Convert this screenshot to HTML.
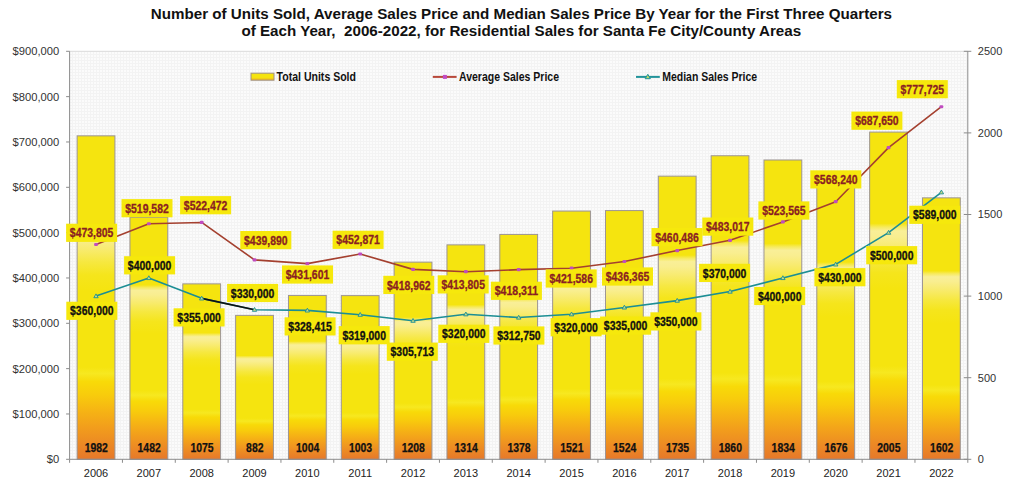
<!DOCTYPE html><html><head><meta charset="utf-8"><style>html,body{margin:0;padding:0;background:#fff;}svg{display:block;}text{font-family:"Liberation Sans",sans-serif;}</style></head><body>
<svg width="1024" height="483" viewBox="0 0 1024 483">
<defs>
<linearGradient id="bar" x1="0" y1="0" x2="0" y2="1">
<stop offset="0" stop-color="#F5E40F"/>
<stop offset="0.279" stop-color="#F5E40F"/>
<stop offset="0.29" stop-color="#F7EA5C"/>
<stop offset="0.302" stop-color="#F9EF98"/>
<stop offset="0.32" stop-color="#F9EE90"/>
<stop offset="0.35" stop-color="#F8EB70"/>
<stop offset="0.39" stop-color="#F6E840"/>
<stop offset="0.43" stop-color="#F5E51C"/>
<stop offset="0.48" stop-color="#F5E40F"/>
<stop offset="0.715" stop-color="#F5E40F"/>
<stop offset="0.735" stop-color="#F7E820"/>
<stop offset="0.76" stop-color="#F8DA08"/>
<stop offset="0.80" stop-color="#F8CC0C"/>
<stop offset="0.85" stop-color="#F6B414"/>
<stop offset="0.90" stop-color="#F29E1C"/>
<stop offset="0.95" stop-color="#EC8A24"/>
<stop offset="1" stop-color="#E6782A"/>
</linearGradient>
<linearGradient id="sw" x1="0" y1="0" x2="0" y2="1">
<stop offset="0" stop-color="#F5E40F"/>
<stop offset="0.6" stop-color="#F5E40F"/>
<stop offset="1" stop-color="#F0B020"/>
</linearGradient>
<pattern id="grid" x="0" y="0" width="3" height="3" patternUnits="userSpaceOnUse">
<rect width="3" height="3" fill="#FBFBFB"/>
<rect width="3" height="1" fill="#F3F3F3"/>
<rect width="1" height="3" fill="#F3F3F3"/>
</pattern>
</defs>
<rect width="1024" height="483" fill="#fff"/>
<rect x="69.6" y="51.3" width="898.1999999999999" height="408.0" fill="url(#grid)"/>
<rect x="77.12" y="135.84" width="37.8" height="323.46" fill="url(#bar)" stroke="#9C9494" stroke-width="1"/>
<rect x="129.95" y="217.44" width="37.8" height="241.86" fill="url(#bar)" stroke="#9C9494" stroke-width="1"/>
<rect x="182.79" y="283.86" width="37.8" height="175.44" fill="url(#bar)" stroke="#9C9494" stroke-width="1"/>
<rect x="235.62" y="315.36" width="37.8" height="143.94" fill="url(#bar)" stroke="#9C9494" stroke-width="1"/>
<rect x="288.46" y="295.45" width="37.8" height="163.85" fill="url(#bar)" stroke="#9C9494" stroke-width="1"/>
<rect x="341.29" y="295.61" width="37.8" height="163.69" fill="url(#bar)" stroke="#9C9494" stroke-width="1"/>
<rect x="394.13" y="262.15" width="37.8" height="197.15" fill="url(#bar)" stroke="#9C9494" stroke-width="1"/>
<rect x="446.96" y="244.86" width="37.8" height="214.44" fill="url(#bar)" stroke="#9C9494" stroke-width="1"/>
<rect x="499.80" y="234.41" width="37.8" height="224.89" fill="url(#bar)" stroke="#9C9494" stroke-width="1"/>
<rect x="552.64" y="211.07" width="37.8" height="248.23" fill="url(#bar)" stroke="#9C9494" stroke-width="1"/>
<rect x="605.47" y="210.58" width="37.8" height="248.72" fill="url(#bar)" stroke="#9C9494" stroke-width="1"/>
<rect x="658.31" y="176.15" width="37.8" height="283.15" fill="url(#bar)" stroke="#9C9494" stroke-width="1"/>
<rect x="711.14" y="155.75" width="37.8" height="303.55" fill="url(#bar)" stroke="#9C9494" stroke-width="1"/>
<rect x="763.98" y="159.99" width="37.8" height="299.31" fill="url(#bar)" stroke="#9C9494" stroke-width="1"/>
<rect x="816.81" y="185.78" width="37.8" height="273.52" fill="url(#bar)" stroke="#9C9494" stroke-width="1"/>
<rect x="869.65" y="132.08" width="37.8" height="327.22" fill="url(#bar)" stroke="#9C9494" stroke-width="1"/>
<rect x="922.48" y="197.85" width="37.8" height="261.45" fill="url(#bar)" stroke="#9C9494" stroke-width="1"/>
<path d="M69.6 51.3H967.8" stroke="#DADADA" stroke-width="1"/>
<path d="M69.6 51.3V459.3H967.8V51.3" fill="none" stroke="#8C8C8C" stroke-width="1"/>
<path d="M66.1 459.30H69.6" stroke="#8C8C8C" stroke-width="1"/>
<text x="59.2" y="463.20" font-size="11.2" fill="#333" text-anchor="end">$0</text>
<path d="M66.1 413.97H69.6" stroke="#8C8C8C" stroke-width="1"/>
<text x="59.2" y="417.87" font-size="11.2" fill="#333" text-anchor="end">$100,000</text>
<path d="M66.1 368.63H69.6" stroke="#8C8C8C" stroke-width="1"/>
<text x="59.2" y="372.53" font-size="11.2" fill="#333" text-anchor="end">$200,000</text>
<path d="M66.1 323.30H69.6" stroke="#8C8C8C" stroke-width="1"/>
<text x="59.2" y="327.20" font-size="11.2" fill="#333" text-anchor="end">$300,000</text>
<path d="M66.1 277.97H69.6" stroke="#8C8C8C" stroke-width="1"/>
<text x="59.2" y="281.87" font-size="11.2" fill="#333" text-anchor="end">$400,000</text>
<path d="M66.1 232.63H69.6" stroke="#8C8C8C" stroke-width="1"/>
<text x="59.2" y="236.53" font-size="11.2" fill="#333" text-anchor="end">$500,000</text>
<path d="M66.1 187.30H69.6" stroke="#8C8C8C" stroke-width="1"/>
<text x="59.2" y="191.20" font-size="11.2" fill="#333" text-anchor="end">$600,000</text>
<path d="M66.1 141.97H69.6" stroke="#8C8C8C" stroke-width="1"/>
<text x="59.2" y="145.87" font-size="11.2" fill="#333" text-anchor="end">$700,000</text>
<path d="M66.1 96.63H69.6" stroke="#8C8C8C" stroke-width="1"/>
<text x="59.2" y="100.53" font-size="11.2" fill="#333" text-anchor="end">$800,000</text>
<path d="M66.1 51.30H69.6" stroke="#8C8C8C" stroke-width="1"/>
<text x="59.2" y="55.20" font-size="11.2" fill="#333" text-anchor="end">$900,000</text>
<path d="M963.8 459.30H971.3" stroke="#8C8C8C" stroke-width="1"/>
<text x="977.8" y="463.20" font-size="11" fill="#333">0</text>
<path d="M963.8 377.70H971.3" stroke="#8C8C8C" stroke-width="1"/>
<text x="977.8" y="381.60" font-size="11" fill="#333">500</text>
<path d="M963.8 296.10H971.3" stroke="#8C8C8C" stroke-width="1"/>
<text x="977.8" y="300.00" font-size="11" fill="#333">1000</text>
<path d="M963.8 214.50H971.3" stroke="#8C8C8C" stroke-width="1"/>
<text x="977.8" y="218.40" font-size="11" fill="#333">1500</text>
<path d="M963.8 132.90H971.3" stroke="#8C8C8C" stroke-width="1"/>
<text x="977.8" y="136.80" font-size="11" fill="#333">2000</text>
<path d="M963.8 51.30H971.3" stroke="#8C8C8C" stroke-width="1"/>
<text x="977.8" y="55.20" font-size="11" fill="#333">2500</text>
<path d="M69.60 459.3V462.8" stroke="#8C8C8C" stroke-width="1"/>
<path d="M122.44 459.3V462.8" stroke="#8C8C8C" stroke-width="1"/>
<path d="M175.27 459.3V462.8" stroke="#8C8C8C" stroke-width="1"/>
<path d="M228.11 459.3V462.8" stroke="#8C8C8C" stroke-width="1"/>
<path d="M280.94 459.3V462.8" stroke="#8C8C8C" stroke-width="1"/>
<path d="M333.78 459.3V462.8" stroke="#8C8C8C" stroke-width="1"/>
<path d="M386.61 459.3V462.8" stroke="#8C8C8C" stroke-width="1"/>
<path d="M439.45 459.3V462.8" stroke="#8C8C8C" stroke-width="1"/>
<path d="M492.28 459.3V462.8" stroke="#8C8C8C" stroke-width="1"/>
<path d="M545.12 459.3V462.8" stroke="#8C8C8C" stroke-width="1"/>
<path d="M597.95 459.3V462.8" stroke="#8C8C8C" stroke-width="1"/>
<path d="M650.79 459.3V462.8" stroke="#8C8C8C" stroke-width="1"/>
<path d="M703.62 459.3V462.8" stroke="#8C8C8C" stroke-width="1"/>
<path d="M756.46 459.3V462.8" stroke="#8C8C8C" stroke-width="1"/>
<path d="M809.29 459.3V462.8" stroke="#8C8C8C" stroke-width="1"/>
<path d="M862.13 459.3V462.8" stroke="#8C8C8C" stroke-width="1"/>
<path d="M914.96 459.3V462.8" stroke="#8C8C8C" stroke-width="1"/>
<path d="M967.80 459.3V462.8" stroke="#8C8C8C" stroke-width="1"/>
<text x="96.02" y="476.7" font-size="11" fill="#222" text-anchor="middle">2006</text>
<text x="148.85" y="476.7" font-size="11" fill="#222" text-anchor="middle">2007</text>
<text x="201.69" y="476.7" font-size="11" fill="#222" text-anchor="middle">2008</text>
<text x="254.52" y="476.7" font-size="11" fill="#222" text-anchor="middle">2009</text>
<text x="307.36" y="476.7" font-size="11" fill="#222" text-anchor="middle">2010</text>
<text x="360.19" y="476.7" font-size="11" fill="#222" text-anchor="middle">2011</text>
<text x="413.03" y="476.7" font-size="11" fill="#222" text-anchor="middle">2012</text>
<text x="465.86" y="476.7" font-size="11" fill="#222" text-anchor="middle">2013</text>
<text x="518.70" y="476.7" font-size="11" fill="#222" text-anchor="middle">2014</text>
<text x="571.54" y="476.7" font-size="11" fill="#222" text-anchor="middle">2015</text>
<text x="624.37" y="476.7" font-size="11" fill="#222" text-anchor="middle">2016</text>
<text x="677.21" y="476.7" font-size="11" fill="#222" text-anchor="middle">2017</text>
<text x="730.04" y="476.7" font-size="11" fill="#222" text-anchor="middle">2018</text>
<text x="782.88" y="476.7" font-size="11" fill="#222" text-anchor="middle">2019</text>
<text x="835.71" y="476.7" font-size="11" fill="#222" text-anchor="middle">2020</text>
<text x="888.55" y="476.7" font-size="11" fill="#222" text-anchor="middle">2021</text>
<text x="941.38" y="476.7" font-size="11" fill="#222" text-anchor="middle">2022</text>
<text x="96.32" y="451.9" font-size="12.2" font-weight="bold" fill="#111" stroke="#111" stroke-width="0.25" text-anchor="middle" textLength="23.2" lengthAdjust="spacingAndGlyphs">1982</text>
<text x="149.15" y="451.9" font-size="12.2" font-weight="bold" fill="#111" stroke="#111" stroke-width="0.25" text-anchor="middle" textLength="23.2" lengthAdjust="spacingAndGlyphs">1482</text>
<text x="201.99" y="451.9" font-size="12.2" font-weight="bold" fill="#111" stroke="#111" stroke-width="0.25" text-anchor="middle" textLength="23.2" lengthAdjust="spacingAndGlyphs">1075</text>
<text x="254.82" y="451.9" font-size="12.2" font-weight="bold" fill="#111" stroke="#111" stroke-width="0.25" text-anchor="middle" textLength="17.4" lengthAdjust="spacingAndGlyphs">882</text>
<text x="307.66" y="451.9" font-size="12.2" font-weight="bold" fill="#111" stroke="#111" stroke-width="0.25" text-anchor="middle" textLength="23.2" lengthAdjust="spacingAndGlyphs">1004</text>
<text x="360.49" y="451.9" font-size="12.2" font-weight="bold" fill="#111" stroke="#111" stroke-width="0.25" text-anchor="middle" textLength="23.2" lengthAdjust="spacingAndGlyphs">1003</text>
<text x="413.33" y="451.9" font-size="12.2" font-weight="bold" fill="#111" stroke="#111" stroke-width="0.25" text-anchor="middle" textLength="23.2" lengthAdjust="spacingAndGlyphs">1208</text>
<text x="466.16" y="451.9" font-size="12.2" font-weight="bold" fill="#111" stroke="#111" stroke-width="0.25" text-anchor="middle" textLength="23.2" lengthAdjust="spacingAndGlyphs">1314</text>
<text x="519.00" y="451.9" font-size="12.2" font-weight="bold" fill="#111" stroke="#111" stroke-width="0.25" text-anchor="middle" textLength="23.2" lengthAdjust="spacingAndGlyphs">1378</text>
<text x="571.84" y="451.9" font-size="12.2" font-weight="bold" fill="#111" stroke="#111" stroke-width="0.25" text-anchor="middle" textLength="23.2" lengthAdjust="spacingAndGlyphs">1521</text>
<text x="624.67" y="451.9" font-size="12.2" font-weight="bold" fill="#111" stroke="#111" stroke-width="0.25" text-anchor="middle" textLength="23.2" lengthAdjust="spacingAndGlyphs">1524</text>
<text x="677.51" y="451.9" font-size="12.2" font-weight="bold" fill="#111" stroke="#111" stroke-width="0.25" text-anchor="middle" textLength="23.2" lengthAdjust="spacingAndGlyphs">1735</text>
<text x="730.34" y="451.9" font-size="12.2" font-weight="bold" fill="#111" stroke="#111" stroke-width="0.25" text-anchor="middle" textLength="23.2" lengthAdjust="spacingAndGlyphs">1860</text>
<text x="783.18" y="451.9" font-size="12.2" font-weight="bold" fill="#111" stroke="#111" stroke-width="0.25" text-anchor="middle" textLength="23.2" lengthAdjust="spacingAndGlyphs">1834</text>
<text x="836.01" y="451.9" font-size="12.2" font-weight="bold" fill="#111" stroke="#111" stroke-width="0.25" text-anchor="middle" textLength="23.2" lengthAdjust="spacingAndGlyphs">1676</text>
<text x="888.85" y="451.9" font-size="12.2" font-weight="bold" fill="#111" stroke="#111" stroke-width="0.25" text-anchor="middle" textLength="23.2" lengthAdjust="spacingAndGlyphs">2005</text>
<text x="941.68" y="451.9" font-size="12.2" font-weight="bold" fill="#111" stroke="#111" stroke-width="0.25" text-anchor="middle" textLength="23.2" lengthAdjust="spacingAndGlyphs">1602</text>
<polyline points="96.02,244.51 148.85,223.76 201.69,222.45 254.52,259.88 307.36,263.64 360.19,254.00 413.03,269.37 465.86,271.71 518.70,269.67 571.54,268.18 624.37,261.48 677.21,250.55 730.04,240.33 782.88,221.95 835.71,201.70 888.55,147.57 941.38,106.73" fill="none" stroke="#A4402F" stroke-width="1.6" stroke-linejoin="round"/>
<polyline points="96.02,296.10 148.85,277.97 201.69,298.37 254.52,309.70 307.36,310.42 360.19,314.69 413.03,320.71 465.86,314.23 518.70,317.52 571.54,314.23 624.37,307.43 677.21,300.63 730.04,291.57 782.88,277.97 835.71,264.37 888.55,232.63 941.38,192.29" fill="none" stroke="#1C8E94" stroke-width="1.6" stroke-linejoin="round"/>
<line x1="201.69" y1="298.37" x2="254.52" y2="309.70" stroke="#111" stroke-width="1.6"/>
<rect x="94.12" y="242.91" width="3.8" height="3.2" rx="1" fill="#C04CC0"/>
<rect x="146.95" y="222.16" width="3.8" height="3.2" rx="1" fill="#C04CC0"/>
<rect x="199.79" y="220.85" width="3.8" height="3.2" rx="1" fill="#C04CC0"/>
<rect x="252.62" y="258.28" width="3.8" height="3.2" rx="1" fill="#C04CC0"/>
<rect x="305.46" y="262.04" width="3.8" height="3.2" rx="1" fill="#C04CC0"/>
<rect x="358.29" y="252.40" width="3.8" height="3.2" rx="1" fill="#C04CC0"/>
<rect x="411.13" y="267.77" width="3.8" height="3.2" rx="1" fill="#C04CC0"/>
<rect x="463.96" y="270.11" width="3.8" height="3.2" rx="1" fill="#C04CC0"/>
<rect x="516.80" y="268.07" width="3.8" height="3.2" rx="1" fill="#C04CC0"/>
<rect x="569.64" y="266.58" width="3.8" height="3.2" rx="1" fill="#C04CC0"/>
<rect x="622.47" y="259.88" width="3.8" height="3.2" rx="1" fill="#C04CC0"/>
<rect x="675.31" y="248.95" width="3.8" height="3.2" rx="1" fill="#C04CC0"/>
<rect x="728.14" y="238.73" width="3.8" height="3.2" rx="1" fill="#C04CC0"/>
<rect x="780.98" y="220.35" width="3.8" height="3.2" rx="1" fill="#C04CC0"/>
<rect x="833.81" y="200.10" width="3.8" height="3.2" rx="1" fill="#C04CC0"/>
<rect x="886.65" y="145.97" width="3.8" height="3.2" rx="1" fill="#C04CC0"/>
<rect x="939.48" y="105.13" width="3.8" height="3.2" rx="1" fill="#C04CC0"/>
<path d="M96.02 293.90L98.22 297.70H93.82Z" fill="#C8DC80" stroke="#1F8F96" stroke-width="0.9"/>
<path d="M148.85 275.77L151.05 279.57H146.65Z" fill="#C8DC80" stroke="#1F8F96" stroke-width="0.9"/>
<path d="M201.69 296.17L203.89 299.97H199.49Z" fill="#C8DC80" stroke="#1F8F96" stroke-width="0.9"/>
<path d="M254.52 307.50L256.72 311.30H252.32Z" fill="#C8DC80" stroke="#1F8F96" stroke-width="0.9"/>
<path d="M307.36 308.22L309.56 312.02H305.16Z" fill="#C8DC80" stroke="#1F8F96" stroke-width="0.9"/>
<path d="M360.19 312.49L362.39 316.29H357.99Z" fill="#C8DC80" stroke="#1F8F96" stroke-width="0.9"/>
<path d="M413.03 318.51L415.23 322.31H410.83Z" fill="#C8DC80" stroke="#1F8F96" stroke-width="0.9"/>
<path d="M465.86 312.03L468.06 315.83H463.66Z" fill="#C8DC80" stroke="#1F8F96" stroke-width="0.9"/>
<path d="M518.70 315.32L520.90 319.12H516.50Z" fill="#C8DC80" stroke="#1F8F96" stroke-width="0.9"/>
<path d="M571.54 312.03L573.74 315.83H569.34Z" fill="#C8DC80" stroke="#1F8F96" stroke-width="0.9"/>
<path d="M624.37 305.23L626.57 309.03H622.17Z" fill="#C8DC80" stroke="#1F8F96" stroke-width="0.9"/>
<path d="M677.21 298.43L679.41 302.23H675.01Z" fill="#C8DC80" stroke="#1F8F96" stroke-width="0.9"/>
<path d="M730.04 289.37L732.24 293.17H727.84Z" fill="#C8DC80" stroke="#1F8F96" stroke-width="0.9"/>
<path d="M782.88 275.77L785.08 279.57H780.68Z" fill="#C8DC80" stroke="#1F8F96" stroke-width="0.9"/>
<path d="M835.71 262.17L837.91 265.97H833.51Z" fill="#C8DC80" stroke="#1F8F96" stroke-width="0.9"/>
<path d="M888.55 230.43L890.75 234.23H886.35Z" fill="#C8DC80" stroke="#1F8F96" stroke-width="0.9"/>
<path d="M941.38 190.09L943.58 193.89H939.18Z" fill="#C8DC80" stroke="#1F8F96" stroke-width="0.9"/>
<rect x="66.1" y="223.7" width="51" height="18.2" fill="#F6E80C"/>
<text x="91.60" y="237.40" font-size="12.5" font-weight="bold" fill="#8A1E22" stroke="#8A1E22" stroke-width="0.3" text-anchor="middle" textLength="43.5" lengthAdjust="spacingAndGlyphs">$473,805</text>
<rect x="121.5" y="199.1" width="51" height="18.2" fill="#F6E80C"/>
<text x="147.00" y="212.80" font-size="12.5" font-weight="bold" fill="#8A1E22" stroke="#8A1E22" stroke-width="0.3" text-anchor="middle" textLength="43.5" lengthAdjust="spacingAndGlyphs">$519,582</text>
<rect x="180.1" y="196.1" width="51" height="18.2" fill="#F6E80C"/>
<text x="205.60" y="209.80" font-size="12.5" font-weight="bold" fill="#8A1E22" stroke="#8A1E22" stroke-width="0.3" text-anchor="middle" textLength="43.5" lengthAdjust="spacingAndGlyphs">$522,472</text>
<rect x="240.3" y="231.0" width="51" height="18.2" fill="#F6E80C"/>
<text x="265.80" y="244.70" font-size="12.5" font-weight="bold" fill="#8A1E22" stroke="#8A1E22" stroke-width="0.3" text-anchor="middle" textLength="43.5" lengthAdjust="spacingAndGlyphs">$439,890</text>
<rect x="282.0" y="265.4" width="51" height="18.2" fill="#F6E80C"/>
<text x="307.50" y="279.10" font-size="12.5" font-weight="bold" fill="#8A1E22" stroke="#8A1E22" stroke-width="0.3" text-anchor="middle" textLength="43.5" lengthAdjust="spacingAndGlyphs">$431,601</text>
<rect x="332.6" y="230.7" width="51" height="18.2" fill="#F6E80C"/>
<text x="358.10" y="244.40" font-size="12.5" font-weight="bold" fill="#8A1E22" stroke="#8A1E22" stroke-width="0.3" text-anchor="middle" textLength="43.5" lengthAdjust="spacingAndGlyphs">$452,871</text>
<rect x="383.3" y="275.8" width="51" height="18.2" fill="#F6E80C"/>
<text x="408.80" y="289.50" font-size="12.5" font-weight="bold" fill="#8A1E22" stroke="#8A1E22" stroke-width="0.3" text-anchor="middle" textLength="43.5" lengthAdjust="spacingAndGlyphs">$418,962</text>
<rect x="437.7" y="275.3" width="51" height="18.2" fill="#F6E80C"/>
<text x="463.20" y="289.00" font-size="12.5" font-weight="bold" fill="#8A1E22" stroke="#8A1E22" stroke-width="0.3" text-anchor="middle" textLength="43.5" lengthAdjust="spacingAndGlyphs">$413,805</text>
<rect x="490.9" y="281.7" width="51" height="18.2" fill="#F6E80C"/>
<text x="516.40" y="295.40" font-size="12.5" font-weight="bold" fill="#8A1E22" stroke="#8A1E22" stroke-width="0.3" text-anchor="middle" textLength="43.5" lengthAdjust="spacingAndGlyphs">$418,311</text>
<rect x="545.7" y="269.4" width="51" height="18.2" fill="#F6E80C"/>
<text x="571.20" y="283.10" font-size="12.5" font-weight="bold" fill="#8A1E22" stroke="#8A1E22" stroke-width="0.3" text-anchor="middle" textLength="43.5" lengthAdjust="spacingAndGlyphs">$421,586</text>
<rect x="602.0" y="267.4" width="51" height="18.2" fill="#F6E80C"/>
<text x="627.50" y="281.10" font-size="12.5" font-weight="bold" fill="#8A1E22" stroke="#8A1E22" stroke-width="0.3" text-anchor="middle" textLength="43.5" lengthAdjust="spacingAndGlyphs">$436,365</text>
<rect x="651.5" y="228.0" width="51" height="18.2" fill="#F6E80C"/>
<text x="677.00" y="241.70" font-size="12.5" font-weight="bold" fill="#8A1E22" stroke="#8A1E22" stroke-width="0.3" text-anchor="middle" textLength="43.5" lengthAdjust="spacingAndGlyphs">$460,486</text>
<rect x="702.3" y="217.5" width="51" height="18.2" fill="#F6E80C"/>
<text x="727.80" y="231.20" font-size="12.5" font-weight="bold" fill="#8A1E22" stroke="#8A1E22" stroke-width="0.3" text-anchor="middle" textLength="43.5" lengthAdjust="spacingAndGlyphs">$483,017</text>
<rect x="758.4" y="201.4" width="51" height="18.2" fill="#F6E80C"/>
<text x="783.90" y="215.10" font-size="12.5" font-weight="bold" fill="#8A1E22" stroke="#8A1E22" stroke-width="0.3" text-anchor="middle" textLength="43.5" lengthAdjust="spacingAndGlyphs">$523,565</text>
<rect x="810.3" y="170.3" width="51" height="18.2" fill="#F6E80C"/>
<text x="835.80" y="184.00" font-size="12.5" font-weight="bold" fill="#8A1E22" stroke="#8A1E22" stroke-width="0.3" text-anchor="middle" textLength="43.5" lengthAdjust="spacingAndGlyphs">$568,240</text>
<rect x="851.4" y="111.6" width="51" height="18.2" fill="#F6E80C"/>
<text x="876.90" y="125.30" font-size="12.5" font-weight="bold" fill="#8A1E22" stroke="#8A1E22" stroke-width="0.3" text-anchor="middle" textLength="43.5" lengthAdjust="spacingAndGlyphs">$687,650</text>
<rect x="896.8" y="80.1" width="51" height="18.2" fill="#F6E80C"/>
<text x="922.30" y="93.80" font-size="12.5" font-weight="bold" fill="#8A1E22" stroke="#8A1E22" stroke-width="0.3" text-anchor="middle" textLength="43.5" lengthAdjust="spacingAndGlyphs">$777,725</text>
<rect x="66.3" y="301.7" width="51" height="18.2" fill="#F6E80C"/>
<text x="91.80" y="315.40" font-size="12.5" font-weight="bold" fill="#111" stroke="#111" stroke-width="0.3" text-anchor="middle" textLength="43.5" lengthAdjust="spacingAndGlyphs">$360,000</text>
<rect x="124.1" y="256.2" width="51" height="18.2" fill="#F6E80C"/>
<text x="149.60" y="269.90" font-size="12.5" font-weight="bold" fill="#111" stroke="#111" stroke-width="0.3" text-anchor="middle" textLength="43.5" lengthAdjust="spacingAndGlyphs">$400,000</text>
<rect x="173.6" y="308.3" width="51" height="18.2" fill="#F6E80C"/>
<text x="199.10" y="322.00" font-size="12.5" font-weight="bold" fill="#111" stroke="#111" stroke-width="0.3" text-anchor="middle" textLength="43.5" lengthAdjust="spacingAndGlyphs">$355,000</text>
<rect x="227.1" y="283.9" width="51" height="18.2" fill="#F6E80C"/>
<text x="252.60" y="297.60" font-size="12.5" font-weight="bold" fill="#111" stroke="#111" stroke-width="0.3" text-anchor="middle" textLength="43.5" lengthAdjust="spacingAndGlyphs">$330,000</text>
<rect x="284.6" y="317.3" width="51" height="18.2" fill="#F6E80C"/>
<text x="310.10" y="331.00" font-size="12.5" font-weight="bold" fill="#111" stroke="#111" stroke-width="0.3" text-anchor="middle" textLength="43.5" lengthAdjust="spacingAndGlyphs">$328,415</text>
<rect x="338.7" y="326.1" width="51" height="18.2" fill="#F6E80C"/>
<text x="364.20" y="339.80" font-size="12.5" font-weight="bold" fill="#111" stroke="#111" stroke-width="0.3" text-anchor="middle" textLength="43.5" lengthAdjust="spacingAndGlyphs">$319,000</text>
<rect x="386.8" y="342.6" width="51" height="18.2" fill="#F6E80C"/>
<text x="412.30" y="356.30" font-size="12.5" font-weight="bold" fill="#111" stroke="#111" stroke-width="0.3" text-anchor="middle" textLength="43.5" lengthAdjust="spacingAndGlyphs">$305,713</text>
<rect x="438.3" y="324.7" width="51" height="18.2" fill="#F6E80C"/>
<text x="463.80" y="338.40" font-size="12.5" font-weight="bold" fill="#111" stroke="#111" stroke-width="0.3" text-anchor="middle" textLength="43.5" lengthAdjust="spacingAndGlyphs">$320,000</text>
<rect x="493.4" y="326.4" width="51" height="18.2" fill="#F6E80C"/>
<text x="518.90" y="340.10" font-size="12.5" font-weight="bold" fill="#111" stroke="#111" stroke-width="0.3" text-anchor="middle" textLength="43.5" lengthAdjust="spacingAndGlyphs">$312,750</text>
<rect x="550.6" y="318.1" width="51" height="18.2" fill="#F6E80C"/>
<text x="576.10" y="331.80" font-size="12.5" font-weight="bold" fill="#111" stroke="#111" stroke-width="0.3" text-anchor="middle" textLength="43.5" lengthAdjust="spacingAndGlyphs">$320,000</text>
<rect x="600.1" y="316.5" width="51" height="18.2" fill="#F6E80C"/>
<text x="625.60" y="330.20" font-size="12.5" font-weight="bold" fill="#111" stroke="#111" stroke-width="0.3" text-anchor="middle" textLength="43.5" lengthAdjust="spacingAndGlyphs">$335,000</text>
<rect x="650.4" y="312.3" width="51" height="18.2" fill="#F6E80C"/>
<text x="675.90" y="326.00" font-size="12.5" font-weight="bold" fill="#111" stroke="#111" stroke-width="0.3" text-anchor="middle" textLength="43.5" lengthAdjust="spacingAndGlyphs">$350,000</text>
<rect x="699.1" y="263.8" width="51" height="18.2" fill="#F6E80C"/>
<text x="724.60" y="277.50" font-size="12.5" font-weight="bold" fill="#111" stroke="#111" stroke-width="0.3" text-anchor="middle" textLength="43.5" lengthAdjust="spacingAndGlyphs">$370,000</text>
<rect x="754.2" y="286.9" width="51" height="18.2" fill="#F6E80C"/>
<text x="779.70" y="300.60" font-size="12.5" font-weight="bold" fill="#111" stroke="#111" stroke-width="0.3" text-anchor="middle" textLength="43.5" lengthAdjust="spacingAndGlyphs">$400,000</text>
<rect x="814.4" y="268.1" width="51" height="18.2" fill="#F6E80C"/>
<text x="839.90" y="281.80" font-size="12.5" font-weight="bold" fill="#111" stroke="#111" stroke-width="0.3" text-anchor="middle" textLength="43.5" lengthAdjust="spacingAndGlyphs">$430,000</text>
<rect x="866.2" y="246.1" width="51" height="18.2" fill="#F6E80C"/>
<text x="891.70" y="259.80" font-size="12.5" font-weight="bold" fill="#111" stroke="#111" stroke-width="0.3" text-anchor="middle" textLength="43.5" lengthAdjust="spacingAndGlyphs">$500,000</text>
<rect x="909.3" y="205.7" width="51" height="18.2" fill="#F6E80C"/>
<text x="934.80" y="219.40" font-size="12.5" font-weight="bold" fill="#111" stroke="#111" stroke-width="0.3" text-anchor="middle" textLength="43.5" lengthAdjust="spacingAndGlyphs">$589,000</text>
<rect x="251" y="73.2" width="23" height="7" fill="url(#sw)" stroke="#A09080" stroke-width="1"/>
<text x="276.6" y="80.7" font-size="12.3" font-weight="bold" fill="#111" textLength="79.4" lengthAdjust="spacingAndGlyphs">Total Units Sold</text>
<line x1="432.8" y1="76.9" x2="456.6" y2="76.9" stroke="#B8483A" stroke-width="2"/>
<rect x="442.9" y="74.9" width="4" height="4" fill="#C24CC4"/>
<text x="459" y="80.7" font-size="12.3" font-weight="bold" fill="#111" textLength="100" lengthAdjust="spacingAndGlyphs">Average Sales Price</text>
<line x1="636" y1="76.9" x2="659.8" y2="76.9" stroke="#21939A" stroke-width="2"/>
<path d="M647.8 74.3L650.4 78.7H645.2Z" fill="#B8D86A" stroke="#21939A" stroke-width="1"/>
<text x="662.2" y="80.7" font-size="12.3" font-weight="bold" fill="#111" textLength="95" lengthAdjust="spacingAndGlyphs">Median Sales Price</text>
<text x="521.4" y="18.7" font-size="14.5" font-weight="bold" fill="#111" text-anchor="middle" textLength="741.2" lengthAdjust="spacingAndGlyphs">Number of Units Sold, Average Sales Price and Median Sales Price By Year for the First Three Quarters</text>
<text x="521.3" y="36.3" font-size="14.5" font-weight="bold" fill="#111" text-anchor="middle" textLength="559.7" lengthAdjust="spacingAndGlyphs" xml:space="preserve">of Each Year,  2006-2022, for Residential Sales for Santa Fe City/County Areas</text>
</svg></body></html>
